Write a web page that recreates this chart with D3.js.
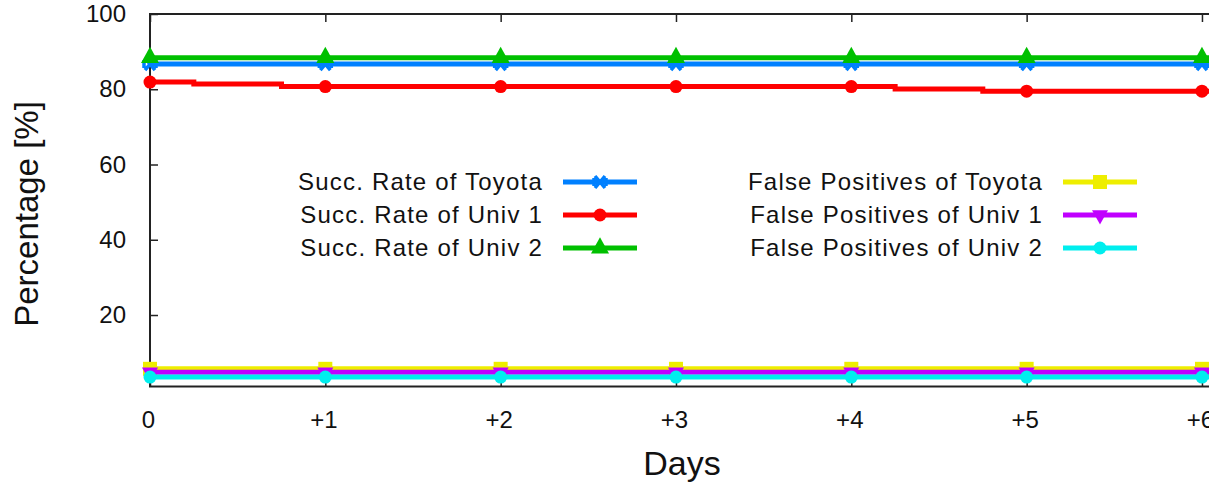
<!DOCTYPE html>
<meta charset="utf-8">
<style>

body {
  margin: 0;
  background: #fff;
}

text {
  font-family: "Liberation Sans", Arial, Helvetica, sans-serif;
  fill: #111;
}

.axis text {
  font-size: 24px;
}

.axis line {
  stroke: #222;
  stroke-width: 1.5;
}

.frame {
  fill: none;
  stroke: #222;
  stroke-width: 2;
}

.legend text {
  font-size: 24px;
  letter-spacing: 1.2px;
}

</style>
<svg width="1209" height="484"></svg>
<script src="https://d3js.org/d3.v7.min.js"></script>
<script>

// values
var days = [0, 1, 2, 3, 4, 5, 6];
var dayLabels = ["0", "+1", "+2", "+3", "+4", "+5", "+6"];
var yTicks = [20, 40, 60, 80, 100];

var succToyota = [86.7, 86.7, 86.7, 86.7, 86.7, 86.7, 86.7];
var succUniv2 = [88.4, 88.4, 88.4, 88.4, 88.4, 88.4, 88.4];
var succUniv1 = [81.9, 80.7, 80.7, 80.7, 80.7, 79.5, 79.5];
// univ 1 changes between the daily marks
var univ1StepDays = [0, 0.25, 0.75, 4.25, 4.75];
var univ1StepVals = [81.9, 81.4, 80.7, 80.1, 79.5];

var fpToyota = [5.7, 5.7, 5.7, 5.7, 5.7, 5.7, 5.7];
var fpUniv1 = [4.8, 4.8, 4.8, 4.8, 4.8, 4.8, 4.8];
var fpUniv2 = [3.5, 3.5, 3.5, 3.5, 3.5, 3.5, 3.5];

var svg = d3.select("svg");

var x = d3.scaleLinear().domain([0, 6.1]).range([150, 1219.5]);
var y = d3.scaleLinear().domain([1, 100]).range([386.5, 14]);

var tri = function(size, down) {
  return function(g) {
    var h = size * 0.9;
    g.append("path")
      .attr("d", down
        ? "M" + (-size / 2) + "," + (-h / 3) + "L" + (size / 2) + "," + (-h / 3) + "L0," + (2 * h / 3) + "Z"
        : "M" + (-size / 2) + "," + (h / 3) + "L" + (size / 2) + "," + (h / 3) + "L0," + (-2 * h / 3) + "Z");
  };
};

var markers = {
  cross: function(g, c) {
    g.append("path")
      .attr("d", "M-5,-6L5,6M-5,6L5,-6M-6,-4L-6,4M6,-4L6,4")
      .attr("stroke", c).attr("stroke-width", 3.5).attr("fill", "none");
  },
  circle: function(g, c) {
    g.append("circle").attr("r", 6.5).attr("fill", c);
  },
  up: function(g, c) {
    tri(18, false)(g);
    g.select("path").attr("fill", c);
  },
  down: function(g, c) {
    tri(16, true)(g);
    g.select("path").attr("fill", c);
  },
  square: function(g, c) {
    g.append("rect").attr("x", -7).attr("y", -7).attr("width", 14).attr("height", 14).attr("fill", c);
  }
};

var series = [
  {name: "Succ. Rate of Toyota", values: succToyota, color: "#0080ff", mark: "cross"},
  {name: "Succ. Rate of Univ 1", values: succUniv1, color: "#ff0000", mark: "circle",
   stepDays: univ1StepDays, stepVals: univ1StepVals},
  {name: "Succ. Rate of Univ 2", values: succUniv2, color: "#00c000", mark: "up"},
  {name: "False Positives of Toyota", values: fpToyota, color: "#eeee00", mark: "square"},
  {name: "False Positives of Univ 1", values: fpUniv1, color: "#c000ff", mark: "down"},
  {name: "False Positives of Univ 2", values: fpUniv2, color: "#00eeee", mark: "circle"}
];

// frame
svg.append("rect")
    .attr("class", "frame")
    .attr("x", x(0))
    .attr("y", y(100))
    .attr("width", x(6.1) - x(0))
    .attr("height", y(1) - y(100));

svg.append("g")
    .attr("class", "axis")
    .attr("transform", "translate(" + x(0) + ",0)")
    .call(d3.axisLeft(y).tickValues(yTicks).tickSize(-8).tickPadding(24))
    .call(function(g) { g.select(".domain").remove(); });

var xAxis = svg.append("g")
    .attr("class", "axis")
    .attr("transform", "translate(0," + y(1) + ")")
    .call(d3.axisBottom(x).tickValues(days).tickSize(-8).tickPadding(24)
      .tickFormat(function(d, i) { return dayLabels[i]; }))
    .call(function(g) { g.select(".domain").remove(); });
xAxis.selectAll("text").attr("dx", -2);

svg.append("g")
    .attr("class", "axis")
    .attr("transform", "translate(0," + y(100) + ")")
    .call(d3.axisTop(x).tickValues(days).tickSize(-8).tickFormat(""))
    .call(function(g) { g.select(".domain").remove(); });

svg.selectAll(".axis text").attr("fill", "#111");

// lines and points
var line = d3.line()
    .x(function(d) { return x(d[0]); })
    .y(function(d) { return y(d[1]); });

series.forEach(function(s) {
  var pts;
  if (s.stepDays) {
    pts = s.stepDays.map(function(d, i) { return [d, s.stepVals[i]]; });
  } else {
    pts = days.map(function(d, i) { return [d, s.values[i]]; });
  }
  pts.push([x.domain()[1], s.values[s.values.length - 1]]);

  svg.append("path")
      .datum(pts)
      .attr("fill", "none")
      .attr("stroke", s.color)
      .attr("stroke-width", 5)
      .attr("d", s.stepDays ? line.curve(d3.curveStepAfter)(pts) : line.curve(d3.curveLinear)(pts));

  svg.append("g").selectAll("g")
      .data(days)
    .enter().append("g")
      .attr("transform", function(d, i) { return "translate(" + x(d) + "," + y(s.values[i]) + ")"; })
      .each(function() { markers[s.mark](d3.select(this), s.color); });
});

// legend
var legend = svg.append("g").attr("class", "legend");
var legendCols = [{textEnd: 543, x0: 563, x1: 637}, {textEnd: 1043, x0: 1063, x1: 1137}];
var legendRows = [182, 215, 248];

series.forEach(function(s, i) {
  var col = legendCols[Math.floor(i / 3)],
      ry = legendRows[i % 3];
  var g = legend.append("g");
  g.append("text")
      .attr("x", col.textEnd)
      .attr("y", ry)
      .attr("dy", "0.35em")
      .attr("text-anchor", "end")
      .text(s.name);
  g.append("line")
      .attr("x1", col.x0).attr("x2", col.x1)
      .attr("y1", ry).attr("y2", ry)
      .attr("stroke", s.color)
      .attr("stroke-width", 5);
  var m = g.append("g").attr("transform", "translate(" + (col.x0 + col.x1) / 2 + "," + ry + ")");
  markers[s.mark](m, s.color);
});

// axis titles
svg.append("text")
    .attr("transform", "translate(38," + 214 + ") rotate(-90)")
    .attr("text-anchor", "middle")
    .style("font-size", "33px")
    .text("Percentage [%]");

svg.append("text")
    .attr("x", 682)
    .attr("y", 475)
    .attr("text-anchor", "middle")
    .style("font-size", "34px")
    .text("Days");

</script>
